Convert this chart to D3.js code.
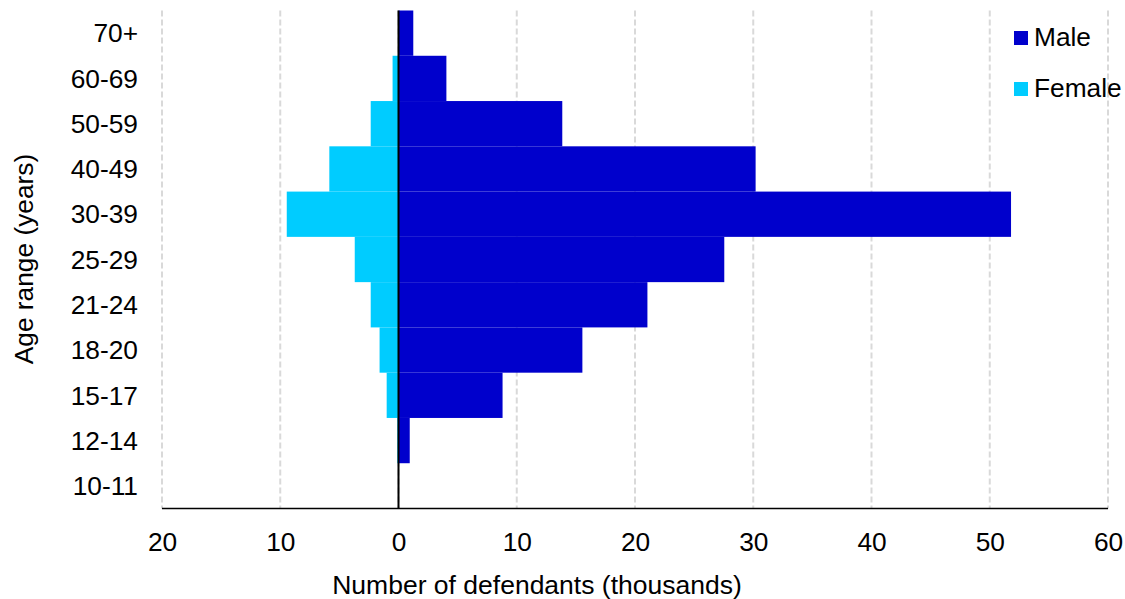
<!DOCTYPE html>
<html>
<head>
<meta charset="utf-8">
<script src="https://cdn.jsdelivr.net/npm/d3@7"></script>
<style>
  html, body { margin: 0; padding: 0; background: #fff; }
  svg { display: block; font-family: "Liberation Sans", Arial, sans-serif; }
</style>
</head>
<body>
<svg id="chart" width="1125" height="599"></svg>
<script>
// Age bands, top to bottom
const ageGroups = ["70+", "60-69", "50-59", "40-49", "30-39", "25-29", "21-24", "18-20", "15-17", "12-14", "10-11"];
// Defendants in thousands
const maleValues   = [1.25, 4.05, 13.85, 30.2, 51.8, 27.55, 21.05, 15.55, 8.8, 0.95, 0];
const femaleValues = [0, 0.5, 2.35, 5.85, 9.45, 3.7, 2.35, 1.6, 1.0, 0.1, 0];
const xTicks = [-20, -10, 0, 10, 20, 30, 40, 50, 60];
const seriesNames = ["Male", "Female"];
const seriesColors = ["#0000cc", "#00ccff"];

const svg = d3.select("#chart");
const plotLeft = 162, plotRight = 1108, plotTop = 10.5, plotBottom = 508.5;
const fontSize = 26.3;

const x = d3.scaleLinear().domain([-20, 60]).range([plotLeft, plotRight]);
const y = d3.scaleBand().domain(ageGroups).range([plotTop, plotBottom]).padding(0);

// Dashed vertical gridlines
svg.append("g").selectAll("line").data(xTicks).join("line")
  .attr("x1", d => x(d)).attr("x2", d => x(d))
  .attr("y1", plotTop).attr("y2", plotBottom)
  .attr("stroke", "#d9d9d9").attr("stroke-width", 2)
  .attr("stroke-dasharray", "6,3");

// Female bars extend left of zero
svg.append("g").selectAll("rect").data(ageGroups).join("rect")
  .attr("x", (d, i) => x(-femaleValues[i]))
  .attr("y", d => y(d))
  .attr("width", (d, i) => x(0) - x(-femaleValues[i]))
  .attr("height", y.bandwidth())
  .attr("fill", seriesColors[1]);

// Male bars extend right of zero
svg.append("g").selectAll("rect").data(ageGroups).join("rect")
  .attr("x", x(0))
  .attr("y", d => y(d))
  .attr("width", (d, i) => x(maleValues[i]) - x(0))
  .attr("height", y.bandwidth())
  .attr("fill", seriesColors[0]);

// Zero line
svg.append("line")
  .attr("x1", x(0)).attr("x2", x(0)).attr("y1", plotTop).attr("y2", plotBottom)
  .attr("stroke", "#000").attr("stroke-width", 2);

// Bottom axis line and tick labels
svg.append("line")
  .attr("x1", plotLeft).attr("x2", plotRight).attr("y1", plotBottom).attr("y2", plotBottom)
  .attr("stroke", "#000").attr("stroke-width", 1.5);

const xAxis = d3.axisBottom(x).tickValues(xTicks).tickSize(0).tickPadding(0)
  .tickFormat(d => Math.abs(d));
const gx = svg.append("g").attr("transform", `translate(0,${plotBottom})`).call(xAxis);
gx.select(".domain").remove();
gx.selectAll("text")
  .attr("y", 42.5).attr("dy", null)
  .attr("font-size", fontSize).attr("fill", "#000")
  .attr("font-family", "Liberation Sans, Arial, sans-serif");

// Category labels
const yAxis = d3.axisLeft(y).tickSize(0).tickPadding(0);
const gy = svg.append("g").attr("transform", "translate(138,0)").call(yAxis);
gy.select(".domain").remove();
gy.selectAll("text")
  .attr("x", 0).attr("dy", "0.35em")
  .attr("font-size", fontSize).attr("fill", "#000")
  .attr("font-family", "Liberation Sans, Arial, sans-serif");

// Axis titles
svg.append("text")
  .attr("x", 537).attr("y", 594)
  .attr("text-anchor", "middle").attr("font-size", fontSize + 0.2)
  .text("Number of defendants (thousands)");

svg.append("text")
  .attr("transform", "translate(33,259) rotate(-90)")
  .attr("text-anchor", "middle").attr("font-size", fontSize)
  .text("Age range (years)");

// Legend
const legend = svg.append("g").selectAll("g").data(seriesNames).join("g")
  .attr("transform", (d, i) => `translate(1014,${31 + i * 51})`);
legend.append("rect")
  .attr("width", 14).attr("height", 14)
  .attr("fill", (d, i) => seriesColors[i]);
legend.append("text")
  .attr("x", 20).attr("y", 15)
  .attr("font-size", fontSize)
  .text(d => d);
</script>
</body>
</html>
